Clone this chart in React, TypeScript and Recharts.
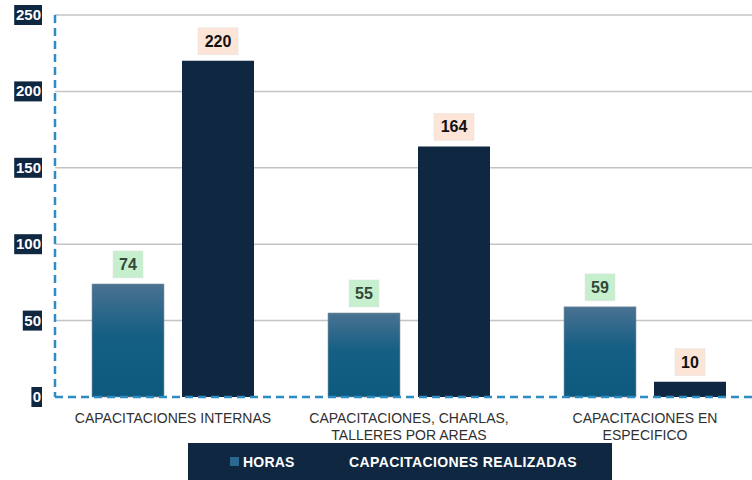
import { Bar, BarChart, CartesianGrid, LabelList, Legend, XAxis, YAxis } from 'recharts';

const categories = [
  'CAPACITACIONES INTERNAS',
  'CAPACITACIONES, CHARLAS, TALLERES POR AREAS',
  'CAPACITACIONES EN ESPECIFICO',
];
// como se parten las etiquetas del eje X
const categoryLines = [
  ['CAPACITACIONES INTERNAS'],
  ['CAPACITACIONES, CHARLAS,', 'TALLERES POR AREAS'],
  ['CAPACITACIONES EN', 'ESPECIFICO'],
];
const seriesNames = ['HORAS', 'CAPACITACIONES REALIZADAS'];
const horas = [74, 55, 59];
const realizadas = [220, 164, 10];
const yTicks = [0, 50, 100, 150, 200, 250];

const data = categories.map((name, i) => ({
  name,
  horas: horas[i],
  realizadas: realizadas[i],
}));

const NAVY = '#0f2741';
const AXIS_BLUE = '#2e8cc4';
const FONT = 'Liberation Sans, Arial, sans-serif';

function YTick({ x, y, payload }: any) {
  const txt = String(payload.value);
  const w = txt.length * 8.6 + 2;
  const right = x - 6;
  return (
    <g>
      <rect x={right - w + 1} y={y - 10} width={w} height={20} fill={NAVY} />
      <text x={right} y={y + 5} textAnchor="end" fill="#fff" fontSize={15} fontWeight="bold" fontFamily={FONT}>
        {txt}
      </text>
    </g>
  );
}

function XTick({ x, y, index }: any) {
  const lines = categoryLines[index] || [];
  return (
    <g>
      {lines.map((line, k) => (
        <text key={k} x={x} y={y + 18 + k * 17} textAnchor="middle" fill="#303030" fontSize={14} fontFamily={FONT}>
          {line}
        </text>
      ))}
    </g>
  );
}

function makeBoxLabel(bg: string, color: string) {
  return function BoxLabel(props: any) {
    const { x, y, width, value } = props;
    const txt = String(value);
    const w = txt.length * 10 + 10;
    const h = 27;
    const cx = x + width / 2;
    const top = y - 6 - h;
    return (
      <g>
        <rect x={cx - w / 2} y={top} width={w} height={h} fill={bg} stroke="#e3e3e3" strokeWidth={0.5} />
        <text x={cx} y={top + 19} textAnchor="middle" fill={color} fontSize={16} fontWeight="bold" fontFamily={FONT}>
          {txt}
        </text>
      </g>
    );
  };
}

function LegendBox() {
  const starts = [42, 148];
  return (
    <svg width={424} height={37} style={{ display: 'block' }}>
      <rect x={0} y={0} width={424} height={37} fill={NAVY} />
      {seriesNames.map((name, i) => (
        <g key={name}>
          <rect x={starts[i]} y={14} width={9} height={9} fill={i === 0 ? '#2a6a92' : NAVY} />
          <text
            x={starts[i] + 13}
            y={23.5}
            fill="#fff"
            fontSize={14}
            fontWeight="bold"
            letterSpacing={i === 1 ? 0.4 : 0.2}
            fontFamily={FONT}
          >
            {name}
          </text>
        </g>
      ))}
    </svg>
  );
}

export default function App() {
  return (
    <div style={{ position: 'absolute', left: 0, top: 0, width: 752, height: 480, overflow: 'hidden', background: '#fff' }}>
      <BarChart
        width={770}
        height={480}
        data={data}
        margin={{ top: 15, right: 7, left: 0, bottom: 0 }}
        barSize={72}
        barGap={18}
        barCategoryGap={37}
      >
        <defs>
          <linearGradient id="gradHoras" x1="0" y1="0" x2="0" y2="1">
            <stop offset="0%" stopColor="#4a7292" />
            <stop offset="45%" stopColor="#155f84" />
            <stop offset="100%" stopColor="#0d5a7f" />
          </linearGradient>
        </defs>
        <CartesianGrid vertical={false} stroke="#c4c4c4" strokeWidth={1.5} horizontalValues={[50, 100, 150, 200, 250]} />
        <Bar dataKey="horas" name={seriesNames[0]} fill="url(#gradHoras)" stroke="#8a97a3" strokeWidth={0.6} isAnimationActive={false}>
          <LabelList dataKey="horas" content={makeBoxLabel('#c6efce', '#34463a')} />
        </Bar>
        <Bar dataKey="realizadas" name={seriesNames[1]} fill={NAVY} isAnimationActive={false}>
          <LabelList dataKey="realizadas" content={makeBoxLabel('#fce4d6', '#111')} />
        </Bar>
        <XAxis
          dataKey="name"
          interval={0}
          height={46}
          tickLine={false}
          axisLine={{ stroke: AXIS_BLUE, strokeWidth: 2.5, strokeDasharray: '8 5' }}
          tick={<XTick />}
        />
        <YAxis
          domain={[0, 250]}
          ticks={yTicks}
          width={55}
          tickLine={false}
          axisLine={{ stroke: AXIS_BLUE, strokeWidth: 2.5, strokeDasharray: '8 5' }}
          tick={<YTick />}
        />
        <Legend
          verticalAlign="bottom"
          content={<LegendBox />}
          wrapperStyle={{ left: 188, bottom: 0, width: 424, height: 37 }}
        />
      </BarChart>
    </div>
  );
}
